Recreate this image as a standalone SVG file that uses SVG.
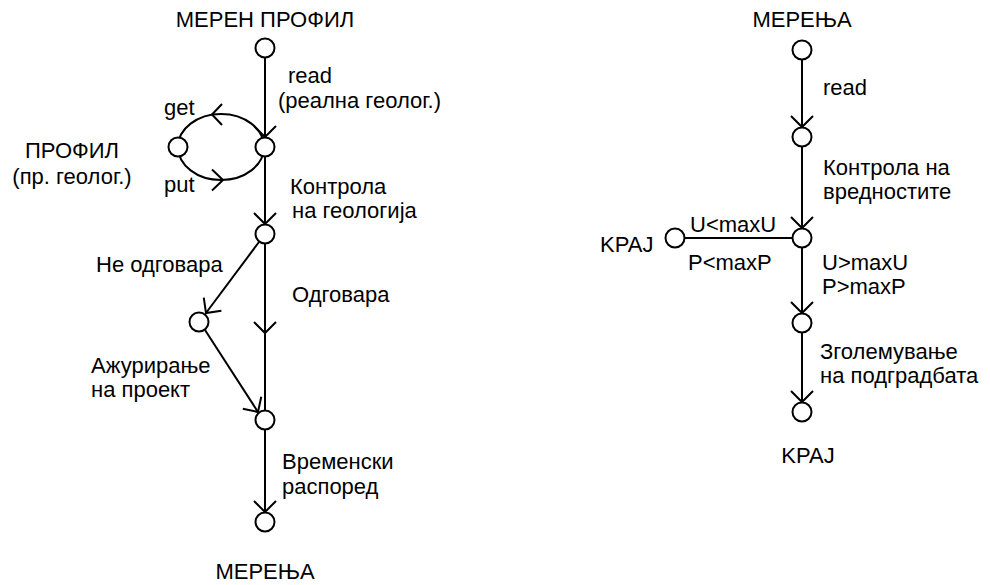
<svg xmlns="http://www.w3.org/2000/svg" width="990" height="585" viewBox="0 0 990 585">
<defs>
<style>
.n{fill:#fff;stroke:#000;stroke-width:2}
.e{fill:none;stroke:#000;stroke-width:2}
text{font-family:"Liberation Sans",Arial,sans-serif;font-size:22px;fill:#000}
.c{text-anchor:middle}
</style>
<marker id="a" markerUnits="userSpaceOnUse" markerWidth="30" markerHeight="30" viewBox="-15 -15 30 30" refX="0" refY="0" orient="auto">
<path d="M-11,-11 L0,0 L-11,11" fill="none" stroke="#000" stroke-width="2"/>
</marker>
</defs>
<g id="connectors">
<line class="e" x1="265" y1="58" x2="265" y2="137" marker-end="url(#a)"/>
<ellipse class="e" cx="221" cy="147" rx="43" ry="33"/>
<path class="e" d="M222,104 L212,114.5 L222,125"/>
<path class="e" d="M212,169.5 L223,180 L212,190.5"/>
<line class="e" x1="265" y1="157" x2="265" y2="224" marker-end="url(#a)"/>
<line class="e" x1="259" y1="242" x2="206" y2="313" marker-end="url(#a)"/>
<line class="e" x1="265" y1="244" x2="265" y2="333" marker-end="url(#a)"/>
<line class="e" x1="265" y1="333" x2="265" y2="410"/>
<line class="e" x1="205" y1="330" x2="258" y2="412" marker-end="url(#a)"/>
<line class="e" x1="265" y1="430" x2="265" y2="512" marker-end="url(#a)"/>
<line class="e" x1="802" y1="60" x2="802" y2="127" marker-end="url(#a)"/>
<line class="e" x1="802" y1="147" x2="802" y2="228" marker-end="url(#a)"/>
<line class="e" x1="685" y1="238" x2="792" y2="238"/>
<line class="e" x1="802" y1="248" x2="802" y2="313" marker-end="url(#a)"/>
<line class="e" x1="802" y1="333" x2="802" y2="402" marker-end="url(#a)"/>
</g>
<g id="n1"><circle class="n" cx="265" cy="48" r="9.5"/><text class="c" x="265" y="27">МЕРЕН ПРОФИЛ</text></g>
<g id="n2"><circle class="n" cx="265" cy="147" r="9.5"/></g>
<g id="profil"><circle class="n" cx="178" cy="147" r="9.5"/><text class="c" x="72" y="158">ПРОФИЛ</text><text class="c" x="72" y="184">(пр. геолог.)</text></g>
<g id="n3"><circle class="n" cx="265" cy="234" r="9.5"/></g>
<g id="n4"><circle class="n" cx="199" cy="322" r="9.5"/></g>
<g id="n5"><circle class="n" cx="265" cy="420" r="9.5"/></g>
<g id="n6"><circle class="n" cx="265" cy="522" r="9.5"/><text class="c" x="265" y="579">МЕРЕЊА</text></g>
<g id="labels-left">
<text x="288" y="83">read</text>
<text x="278" y="108">(реална геолог.)</text>
<text x="164" y="115">get</text>
<text x="164" y="192">put</text>
<text x="290" y="194">Контрола</text>
<text x="292" y="218">на геологија</text>
<text x="96" y="272">Не одговара</text>
<text x="292" y="302">Одговара</text>
<text x="91" y="373">Ажурирање</text>
<text x="91" y="397">на проект</text>
<text x="282" y="469">Временски</text>
<text x="282" y="494">распоред</text>
</g>
<g id="m1"><circle class="n" cx="802" cy="50" r="9.5"/><text class="c" x="802" y="27">МЕРЕЊА</text></g>
<g id="m2"><circle class="n" cx="802" cy="137" r="9.5"/></g>
<g id="m3"><circle class="n" cx="802" cy="238" r="9.5"/></g>
<g id="kraj1"><circle class="n" cx="675" cy="238" r="9.5"/><text x="600" y="252">KPAJ</text></g>
<g id="m4"><circle class="n" cx="802" cy="323" r="9.5"/></g>
<g id="m5"><circle class="n" cx="802" cy="412" r="9.5"/><text class="c" x="808" y="463">KPAJ</text></g>
<g id="labels-right">
<text x="823" y="95">read</text>
<text x="823" y="175">Контрола на</text>
<text x="823" y="199">вредностите</text>
<text x="690" y="232">U&lt;maxU</text>
<text x="688" y="270">P&lt;maxP</text>
<text x="822" y="270">U&gt;maxU</text>
<text x="822" y="294">P&gt;maxP</text>
<text x="820" y="359">Зголемување</text>
<text x="820" y="383">на подградбата</text>
</g>
</svg>
